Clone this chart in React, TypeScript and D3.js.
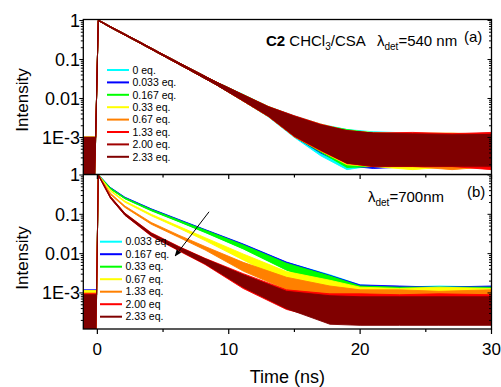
import * as d3 from "d3";
import { useEffect, useRef } from "react";

// ---- panel (a): lambda_det = 540 nm ----
const timesA = [-1.07, -0.2, -0.13, 0.07, 0.3, 1, 3, 5, 7, 9, 11, 13, 15, 17, 19, 21, 24, 27, 30];
const labelsA = ["0 eq.", "0.033 eq.", "0.167 eq.", "0.33 eq.", "0.67 eq.", "1.33 eq.", "2.00 eq.", "2.33 eq."];
const colorsA = ["#00ffff", "#0000ff", "#00ff00", "#ffff00", "#ff8000", "#ff0000", "#a00000", "#800000"];
// upper / lower envelope of each noisy trace
const upperA = [
  [1.05e-3, 1.05e-3, 1e-3, 1.02, 0.94, 0.7, 0.31, 0.135, 0.06, 0.027, 0.0132, 0.0063, 0.0036, 0.0022, 0.0016, 0.0014, 0.0013, 0.0012, 0.0013],
  [1e-3, 1e-3, 1e-3, 1.02, 0.94, 0.7, 0.31, 0.135, 0.06, 0.027, 0.013, 0.0062, 0.0035, 0.0021, 0.0015, 0.00125, 0.00125, 0.0012, 0.0012],
  [1e-3, 1e-3, 1e-3, 1.02, 0.94, 0.7, 0.31, 0.135, 0.06, 0.027, 0.013, 0.0062, 0.0034, 0.0021, 0.0016, 0.0013, 0.0012, 0.00125, 0.0012],
  [1e-3, 1e-3, 1e-3, 1.02, 0.94, 0.7, 0.31, 0.135, 0.06, 0.027, 0.013, 0.0062, 0.0035, 0.0022, 0.0015, 0.00135, 0.0012, 0.0012, 0.00125],
  [1.05e-3, 1.05e-3, 1e-3, 1.02, 0.94, 0.7, 0.31, 0.135, 0.06, 0.027, 0.0129, 0.0063, 0.0035, 0.0021, 0.0014, 0.0013, 0.0013, 0.0013, 0.0012],
  [1e-3, 1e-3, 1e-3, 1.02, 0.94, 0.7, 0.31, 0.135, 0.06, 0.027, 0.0129, 0.0062, 0.0036, 0.0022, 0.0015, 0.0013, 0.00135, 0.00125, 0.00135],
  [1e-3, 1e-3, 1e-3, 1.02, 0.94, 0.7, 0.31, 0.135, 0.06, 0.027, 0.0128, 0.0061, 0.0035, 0.0021, 0.0015, 0.0013, 0.00125, 0.0012, 0.0012],
  [1e-3, 1e-3, 1e-3, 1.02, 0.94, 0.7, 0.31, 0.135, 0.06, 0.027, 0.0128, 0.0061, 0.0034, 0.0021, 0.0015, 0.0013, 0.0012, 0.00115, 0.0012],
];
const lowerA = [
  [1.1e-4, 1.1e-4, 9.5e-4, 0.98, 0.9, 0.66, 0.29, 0.125, 0.054, 0.023, 0.009, 0.0034, 1e-3, 3.4e-4, 1.5e-4, 1.9e-4, 1.8e-4, 1.8e-4, 1.8e-4],
  [1.1e-4, 1.1e-4, 9.5e-4, 0.98, 0.9, 0.66, 0.29, 0.125, 0.054, 0.023, 0.009, 0.0035, 1.05e-3, 4e-4, 1.9e-4, 1.6e-4, 1.8e-4, 1.8e-4, 1.8e-4],
  [1.1e-4, 1.1e-4, 9.5e-4, 0.98, 0.9, 0.66, 0.29, 0.125, 0.054, 0.023, 0.009, 0.0035, 1.05e-3, 4.2e-4, 1.7e-4, 1.8e-4, 1.8e-4, 1.8e-4, 1.8e-4],
  [1.1e-4, 1.1e-4, 9.5e-4, 0.98, 0.9, 0.66, 0.29, 0.125, 0.054, 0.023, 0.009, 0.0035, 1.05e-3, 4.5e-4, 2e-4, 1.8e-4, 1.5e-4, 1.8e-4, 1.8e-4],
  [1.1e-4, 1.1e-4, 9.5e-4, 0.98, 0.9, 0.66, 0.29, 0.125, 0.054, 0.023, 0.009, 0.0035, 1.05e-3, 4.5e-4, 2.1e-4, 1.8e-4, 1.8e-4, 1.5e-4, 1.8e-4],
  [1.1e-4, 1.1e-4, 9.5e-4, 0.98, 0.9, 0.66, 0.29, 0.125, 0.054, 0.023, 0.009, 0.0035, 1.05e-3, 4.6e-4, 2.2e-4, 1.8e-4, 1.8e-4, 1.8e-4, 1.5e-4],
  [1.1e-4, 1.1e-4, 9.5e-4, 0.98, 0.9, 0.66, 0.29, 0.125, 0.054, 0.023, 0.0092, 0.0036, 1.1e-3, 4.8e-4, 2.2e-4, 1.8e-4, 1.8e-4, 1.8e-4, 1.8e-4],
  [1.1e-4, 1.1e-4, 9.5e-4, 0.98, 0.9, 0.66, 0.29, 0.125, 0.054, 0.023, 0.0092, 0.0036, 1.1e-3, 4.8e-4, 2.2e-4, 1.9e-4, 1.9e-4, 1.9e-4, 1.9e-4],
];

// ---- panel (b): lambda_det = 700 nm ----
const timesB = [-1.07, -0.1, -0.06, 0.07, 1, 2.1, 4.1, 6.2, 8.2, 11.1, 14.4, 17.7, 20, 23, 26, 30];
const labelsB = ["0.033 eq.", "0.167 eq.", "0.33 eq.", "0.67 eq.", "1.33 eq.", "2.00 eq", "2.33 eq."];
const colorsB = ["#00ffff", "#0000ff", "#00ff00", "#ffff00", "#ff8000", "#ff0000", "#800000"];
const upperB = [
  [1.1e-3, 1.1e-3, 9e-4, 1.02, 0.475, 0.268, 0.136, 0.073, 0.04, 0.0172, 0.006, 0.0029, 0.0016, 0.0014, 0.0015, 0.0014],
  [1.2e-3, 1.2e-3, 9e-4, 1.02, 0.48, 0.272, 0.138, 0.074, 0.041, 0.0176, 0.0061, 0.0028, 0.0016, 0.0015, 0.0014, 0.0015],
  [1e-3, 1e-3, 9e-4, 1.02, 0.465, 0.262, 0.133, 0.071, 0.0395, 0.0166, 0.0057, 0.0027, 0.0015, 0.0014, 0.0014, 0.0014],
  [1.15e-3, 1.15e-3, 9e-4, 1.02, 0.412, 0.217, 0.1, 0.0495, 0.0255, 0.0098, 0.0035, 0.0021, 0.0014, 0.0013, 0.0014, 0.0013],
  [1e-3, 1e-3, 9e-4, 1.02, 0.342, 0.162, 0.062, 0.0295, 0.0152, 0.006, 0.0025, 0.0015, 0.0012, 0.0012, 0.0011, 0.0012],
  [9.5e-4, 9.5e-4, 9e-4, 1.02, 0.285, 0.107, 0.034, 0.0152, 0.0076, 0.0031, 0.0012, 9.5e-4, 9.5e-4, 9e-4, 9.5e-4, 9e-4],
  [9e-4, 9e-4, 9e-4, 1.02, 0.28, 0.105, 0.033, 0.0148, 0.0074, 0.0029, 0.0011, 8.5e-4, 8e-4, 8e-4, 8e-4, 8e-4],
];
const lowerB = [
  [1.1e-4, 1.1e-4, 8.5e-4, 0.98, 0.445, 0.252, 0.126, 0.066, 0.035, 0.0135, 0.004, 0.0016, 3e-4, 3e-4, 3e-4, 3e-4],
  [1.1e-4, 1.1e-4, 8.5e-4, 0.98, 0.448, 0.254, 0.127, 0.067, 0.036, 0.0139, 0.0041, 0.0016, 3e-4, 3e-4, 3e-4, 3e-4],
  [1.1e-4, 1.1e-4, 8.5e-4, 0.98, 0.435, 0.248, 0.123, 0.065, 0.0345, 0.0132, 0.0038, 0.0015, 3e-4, 3e-4, 3e-4, 3e-4],
  [1.1e-4, 1.1e-4, 8.5e-4, 0.98, 0.388, 0.203, 0.092, 0.0445, 0.0215, 0.0069, 0.0019, 0.001, 3e-4, 3e-4, 3e-4, 3e-4],
  [1.1e-4, 1.1e-4, 8.5e-4, 0.98, 0.318, 0.15, 0.056, 0.026, 0.0124, 0.0036, 0.0012, 6e-4, 3e-4, 3e-4, 3e-4, 3e-4],
  [1.1e-4, 1.1e-4, 8.5e-4, 0.98, 0.255, 0.094, 0.028, 0.0118, 0.0053, 0.0013, 3.8e-4, 2e-4, 2e-4, 2e-4, 2e-4, 2e-4],
  [1.1e-4, 1.1e-4, 8.5e-4, 0.98, 0.258, 0.095, 0.029, 0.0122, 0.0055, 0.0014, 4e-4, 1.6e-4, 1.5e-4, 1.5e-4, 1.5e-4, 1.5e-4],
];

// axes
const xDomain = [-1.07, 30];
const xMajor = [0, 10, 20, 30];
const xMinor = [5, 15, 25];
const yDomainA = [1.125e-4, 1.06];
const yDomainB = [1.21e-4, 1.03];
const yMajor = [1, 0.1, 0.01, 0.001];
const yMajorLabels = ["1", "0.1", "0.01", "1E-3"];
// arrow in panel (b): [time, intensity]
const arrowFrom = [8.5, 0.116];
const arrowTo = [5.92, 0.0087];

const FONT = "'Liberation Sans', Arial, Helvetica, sans-serif";

export default function App() {
  const ref = useRef<SVGSVGElement | null>(null);

  useEffect(() => {
    if (!ref.current) return;
    const svg = d3.select(ref.current);
    svg.selectAll("*").remove();

    const left = 83.3;
    const right = 491.5;
    const topA = 19.5;
    const mid = 174.5;
    const bottom = 329;

    const x = d3.scaleLinear().domain(xDomain).range([left, right]);
    const yA = d3.scaleLog().domain(yDomainA).range([mid, topA]);
    const yB = d3.scaleLog().domain(yDomainB).range([bottom, mid]);

    const defs = svg.append("defs");
    defs.append("clipPath").attr("id", "clipA").append("rect")
      .attr("x", left).attr("y", topA).attr("width", right - left).attr("height", mid - topA);
    defs.append("clipPath").attr("id", "clipB").append("rect")
      .attr("x", left).attr("y", mid).attr("width", right - left).attr("height", bottom - mid);
    defs.append("marker").attr("id", "arrowHead")
      .attr("viewBox", "0 0 10 10").attr("refX", 9).attr("refY", 5)
      .attr("markerWidth", 7).attr("markerHeight", 7).attr("orient", "auto")
      .append("path").attr("d", "M0,1 L10,5 L0,9 Z").attr("fill", "#000");

    const drawTraces = (
      id: string,
      times: number[],
      upper: number[][],
      lower: number[][],
      colors: string[],
      y: d3.ScaleLogarithmic<number, number>
    ) => {
      const g = svg.append("g").attr("clip-path", `url(#${id})`);
      upper.forEach((u, i) => {
        const pts = times.map((t, k) => ({ t, hi: u[k], lo: lower[i][k] }));
        const area = d3.area<{ t: number; hi: number; lo: number }>()
          .x((d) => x(d.t))
          .y0((d) => y(d.lo))
          .y1((d) => y(d.hi));
        g.append("path").attr("d", area(pts)!)
          .attr("fill", colors[i]).attr("stroke", colors[i])
          .attr("stroke-width", 0.9).attr("stroke-linejoin", "round");
      });
    };

    drawTraces("clipA", timesA, upperA, lowerA, colorsA, yA);
    drawTraces("clipB", timesB, upperB, lowerB, colorsB, yB);

    // frames and ticks
    const axes = svg.append("g").attr("stroke", "#000").attr("fill", "none");
    axes.append("rect").attr("x", left).attr("y", topA).attr("width", right - left)
      .attr("height", bottom - topA).attr("stroke-width", 1.3);
    axes.append("line").attr("x1", left).attr("x2", right).attr("y1", mid).attr("y2", mid)
      .attr("stroke-width", 1.6);

    const yTickSet = (y: d3.ScaleLogarithmic<number, number>) =>
      y.ticks().map((v) => ({ v, major: Math.abs(Math.log10(v) - Math.round(Math.log10(v))) < 1e-6 }));

    [yA, yB].forEach((y) => {
      yTickSet(y).forEach(({ v, major }) => {
        const py = y(v);
        axes.append("line").attr("x1", left - (major ? 4 : 2.5)).attr("x2", left)
          .attr("y1", py).attr("y2", py).attr("stroke-width", 1);
        axes.append("line").attr("x1", right - (major ? 4 : 2.5)).attr("x2", right)
          .attr("y1", py).attr("y2", py).attr("stroke-width", 1);
      });
    });

    xMajor.concat(xMinor).forEach((v) => {
      const major = xMajor.includes(v);
      const px = x(v);
      axes.append("line").attr("x1", px).attr("x2", px)
        .attr("y1", bottom).attr("y2", bottom + (major ? 5 : 3)).attr("stroke-width", 1.2);
      axes.append("line").attr("x1", px).attr("x2", px)
        .attr("y1", mid).attr("y2", mid + (major ? 4.5 : 3)).attr("stroke-width", 1.2);
    });

    // tick labels
    const text = svg.append("g").attr("font-family", FONT).attr("fill", "#000");
    [yA, yB].forEach((y) => {
      yMajor.forEach((v, i) => {
        if (v < y.domain()[0] || v > y.domain()[1]) return;
        text.append("text").attr("x", 80).attr("y", y(v)).attr("dy", "0.36em")
          .attr("text-anchor", "end").attr("font-size", 18).text(yMajorLabels[i]);
      });
    });
    xMajor.forEach((v) => {
      text.append("text").attr("x", x(v)).attr("y", 355)
        .attr("text-anchor", "middle").attr("font-size", 17).text(String(v));
    });

    text.append("text").attr("x", (left + right) / 2).attr("y", 383)
      .attr("text-anchor", "middle").attr("font-size", 18).text("Time (ns)");
    [100, 258].forEach((cy) => {
      text.append("text").attr("transform", `translate(28,${cy}) rotate(-90)`)
        .attr("text-anchor", "middle").attr("font-size", 17).text("Intensity");
    });

    // legends
    const legend = (
      labels: string[],
      colors: string[],
      x0: number,
      y0: number,
      step: number
    ) => {
      labels.forEach((lab, i) => {
        const ly = y0 + i * step;
        svg.append("line").attr("x1", x0).attr("x2", x0 + 22).attr("y1", ly).attr("y2", ly)
          .attr("stroke", colors[i]).attr("stroke-width", 2);
        svg.append("text").attr("x", x0 + 25.5).attr("y", ly).attr("dy", "0.36em")
          .attr("font-family", FONT).attr("font-size", 10.5).text(lab);
      });
    };
    legend(labelsA, colorsA, 107, 70, 12.4);
    legend(labelsB, colorsB, 100, 241.7, 12.5);

    // panel annotations
    const tA = text.append("text").attr("x", 266).attr("y", 46).attr("font-size", 15);
    tA.append("tspan").attr("font-weight", "bold").text("C2");
    tA.append("tspan").text(" CHCl");
    tA.append("tspan").attr("dy", 4).attr("font-size", 10).text("3");
    tA.append("tspan").attr("dy", -4).text("/CSA");
    const lA = text.append("text").attr("x", 377).attr("y", 46).attr("font-size", 15);
    lA.append("tspan").text("λ");
    lA.append("tspan").attr("dy", 4).attr("font-size", 10).text("det");
    lA.append("tspan").attr("dy", -4).text("=540 nm");
    text.append("text").attr("x", 464).attr("y", 42).attr("font-size", 15).text("(a)");

    const lB = text.append("text").attr("x", 368).attr("y", 201.5).attr("font-size", 15);
    lB.append("tspan").text("λ");
    lB.append("tspan").attr("dy", 4).attr("font-size", 10).text("det");
    lB.append("tspan").attr("dy", -4).text("=700nm");
    text.append("text").attr("x", 467).attr("y", 197).attr("font-size", 15).text("(b)");

    svg.append("line")
      .attr("x1", x(arrowFrom[0])).attr("y1", yB(arrowFrom[1]))
      .attr("x2", x(arrowTo[0])).attr("y2", yB(arrowTo[1]))
      .attr("stroke", "#000").attr("stroke-width", 1).attr("marker-end", "url(#arrowHead)");
  }, []);

  return (
    <svg
      ref={ref}
      width={501}
      height={387}
      style={{ position: "absolute", left: 0, top: 0, background: "#fff" }}
    />
  );
}
